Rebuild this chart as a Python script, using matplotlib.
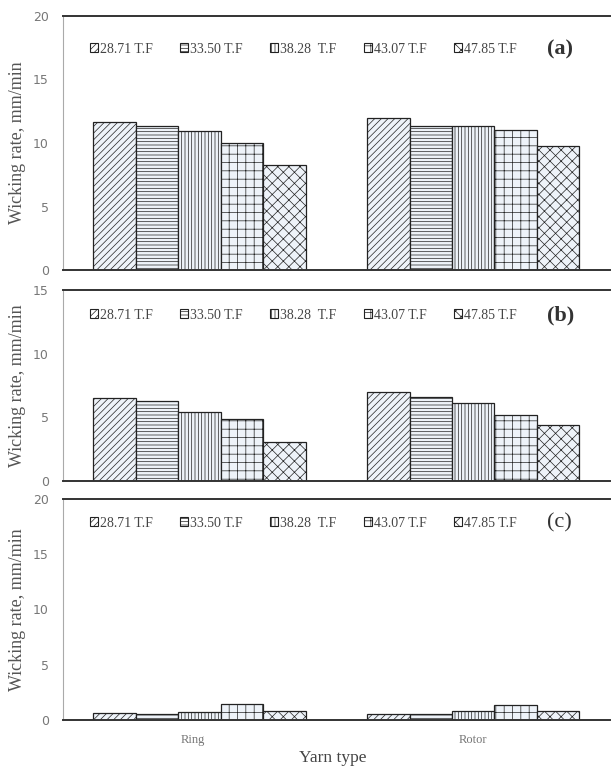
"""Wicking rate of ring and rotor yarns for five yarn counts, three panels"""
import numpy as np
import matplotlib
matplotlib.use('Agg')
import matplotlib.pyplot as plt
from matplotlib.patches import Patch

# data
yarn_types = ['Ring', 'Rotor']
counts = ['28.71 T.F', '33.50 T.F', '38.28  T.F', '43.07 T.F', '47.85 T.F']
panel_a = [[11.65, 11.97], [11.34, 11.34], [10.94, 11.34], [10.0, 11.05], [8.27, 9.76]]
panel_b = [[6.5, 7.0], [6.28, 6.62], [5.45, 6.1], [4.9, 5.2], [3.04, 4.4]]
panel_c = [[0.6, 0.54], [0.54, 0.5], [0.73, 0.82], [1.42, 1.36], [0.82, 0.79]]
panel_tags = ['(a)', '(b)', '(c)']
ymax = [20, 15, 20]

hatches = ['/////', '-----', '|||||', '++', 'xxx']
fill = '#eef3f9'

plt.rcParams['hatch.linewidth'] = 0.5
plt.rcParams['hatch.color'] = '#333333'

fig = plt.figure(figsize=(6.13, 7.66), dpi=100)

# axes boxes in figure fractions (left, bottom, width, height)
L, W = 62.6 / 613, 547.4 / 613
boxes = [[L, (766 - 270) / 766, W, 254 / 766],
         [L, (766 - 481) / 766, W, 191 / 766],
         [L, (766 - 720) / 766, W, 221 / 766]]
legend_y = [0.87, 0.869, 0.891]

x = np.arange(len(yarn_types))
width = 0.155

for k, data in enumerate([panel_a, panel_b, panel_c]):
    ax = fig.add_axes(boxes[k])
    for i, vals in enumerate(data):
        ax.bar(x + (i - 2) * width, vals, width, color=fill, edgecolor='#222222',
               hatch=hatches[i], linewidth=0.9)
    ax.set_xlim(-0.5, 1.5)
    ax.set_ylim(0, ymax[k])
    ax.set_yticks(range(0, ymax[k] + 1, 5))
    ax.tick_params(axis='y', labelsize=9, colors='#777777', length=0, pad=10)
    ax.tick_params(axis='x', length=0)
    ax.spines['right'].set_visible(False)
    ax.spines['left'].set_color('#aaaaaa')
    ax.spines['left'].set_linewidth(0.8)
    ax.spines['top'].set_color('#333333')
    ax.spines['top'].set_linewidth(1.4)
    ax.spines['bottom'].set_color('#333333')
    ax.spines['bottom'].set_linewidth(1.4)
    ax.set_ylabel('Wicking rate, mm/min', family='Liberation Serif', fontsize=13,
                  color='#555555')
    ax.yaxis.set_label_coords(-0.066, 0.5)

    # legend
    handles = [Patch(facecolor='white', edgecolor='#222222', hatch=hatches[i], linewidth=0.8)
               for i in range(len(counts))]
    ax.legend(handles, counts, loc='center left', bbox_to_anchor=(0.05, legend_y[k]),
              ncol=5, frameon=False, borderpad=0, borderaxespad=0,
              handlelength=0.55, handleheight=0.55, handletextpad=0.15,
              columnspacing=2.0, prop={'family': 'Liberation Serif', 'size': 10},
              labelcolor='#444444')
    ax.text(0.885, legend_y[k], panel_tags[k], transform=ax.transAxes,
            family='Liberation Serif', fontsize=16, fontweight='bold' if k != 2 else 'normal',
            color='#333333', va='center')

    if k == 2:
        ax.set_xticks(x + np.array([-0.025, 0.0]))
        ax.set_xticklabels(yarn_types, family='Liberation Serif', fontsize=9, color='#777777')
        ax.tick_params(axis='x', pad=10)
        ax.set_xlabel('Yarn type', family='Liberation Serif', fontsize=12.5, color='#444444')
        ax.xaxis.set_label_coords(0.494, -0.135)
    else:
        ax.set_xticks([])

plt.savefig('out.png', dpi=100)
